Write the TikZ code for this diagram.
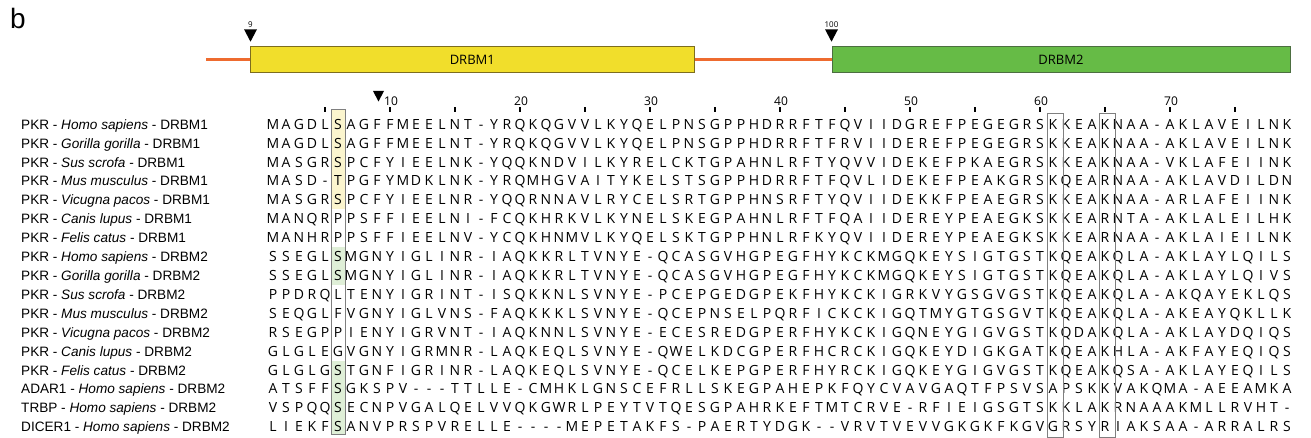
\documentclass[tikz,border=0pt]{standalone}
\usepackage{fontspec}
\setmainfont{Liberation Sans}
\newfontfamily\seqfont{Open Sans}
\definecolor{orangeline}{HTML}{EE6B2F}
\definecolor{dyellow}{HTML}{F1DE2B}
\definecolor{dyellowb}{HTML}{7D6D1E}
\definecolor{dgreen}{HTML}{66BB46}
\definecolor{dgreenb}{HTML}{4C6E40}
\definecolor{hlyellow}{HTML}{FBF5CE}
\definecolor{hlgreen}{HTML}{DFEFD7}
\definecolor{boxgray}{HTML}{7F7F7F}
\newcount\seqcol
\newcount\seqrowno
\def\seqloop#1{\ifx#1\relax\else
  \global\advance\seqcol by 1
  \node[seqletter] (r\the\seqrowno c\the\seqcol) at ({273+13*(\the\seqcol-1)},{\seqy+5}) {#1};
  \expandafter\seqloop\fi}
\newcommand\seqrow[3]{%
  \pgfmathsetmacro\seqy{124.3+18.9*(#1-1)}%
  \global\seqrowno=#1 \global\seqcol=0
  \node[namelabel] (n#1) at (21,{\seqy+5}) {#2};
  \seqloop#3\relax}
\begin{document}
\begin{tikzpicture}[x=1pt,y=-1pt,
  seqletter/.style={font=\seqfont\fontsize{14}{15}\selectfont, inner sep=0pt, anchor=base},
  namelabel/.style={font=\fontsize{13.6}{15}\selectfont, inner sep=0pt, anchor=base west},
  ticklabel/.style={font=\seqfont\fontsize{12}{13}\selectfont, inner sep=0pt, anchor=base},
  poslabel/.style={font=\seqfont\fontsize{8}{9}\selectfont, inner sep=0pt, anchor=base},
  domainbox/.style={draw, line width=0.9pt, inner sep=0pt, minimum height=26.8pt, font=\seqfont\fontsize{13}{14}\selectfont},
  marker/.style={fill=black},
  colbox/.style={draw=boxgray, line width=0.9pt},
  linker/.style={draw=orangeline, line width=3pt},
  tickmark/.style={line width=1.5pt}]
\useasboundingbox (0,0) rectangle (1311,438);
% panel letter
\node[font=\fontsize{28}{30}\selectfont, inner sep=0pt, anchor=base west] (panel) at (10,29) {b};
% domain architecture
\node[domainbox, draw=dyellowb, fill=dyellow, minimum width=444.6pt] (d1) at (472.3,59.4) {DRBM1};
\node[domainbox, draw=dgreenb, fill=dgreen, minimum width=458pt] (d2) at (1061,59.4) {DRBM2};
\coordinate (lstart) at (206,59.4);
\draw[linker] (lstart) -- (d1.west);
\draw[linker] (d1.east) -- (d2.west);
\fill[marker] (244,29.3) -- (257,29.3) -- (250.5,41.7) -- cycle;
\node[poslabel] (p9) at (250.5,27.9) {9};
\fill[marker] (825,29.3) -- (838,29.3) -- (831.5,41.7) -- cycle;
\node[poslabel] (p100) at (831.5,27.9) {100};
% alignment ruler
\fill[marker] (373,91) -- (384,91) -- (378.5,101.5) -- cycle;
\foreach \c in {5,10,...,75} {
  \draw[tickmark] ({273+13*(\c-1)},107.5) -- ({273+13*(\c-1)},112.5);
}
\foreach \c in {10,20,...,70} {
  \node[ticklabel] (t\c) at ({273+13*(\c-1)+1},105.3) {\c};
}
% highlights
\fill[hlyellow] (331,109) rectangle (345.5,209.35);
\fill[hlgreen] (331,247.15) rectangle (345.5,284.95);
\fill[hlgreen] (331,360.55) rectangle (345.5,434);
% rows
\seqrow{1}{PKR - \textit{Homo sapiens} - DRBM1}{MAGDLSAGFFMEELNT-YRQKQGVVLKYQELPNSGPPHDRRFTFQVIIDGREFPEGEGRSKKEAKNAA-AKLAVEILNK}
\seqrow{2}{PKR - \textit{Gorilla gorilla} - DRBM1}{MAGDLSAGFFMEELNT-YRQKQGVVLKYQELPNSGPPHDRRFTFRVIIDEREFPEGEGRSKKEAKNAA-AKLAVEILNK}
\seqrow{3}{PKR - \textit{Sus scrofa} - DRBM1}{MASGRSPCFYIEELNK-YQQKNDVILKYRELCKTGPAHNLRFTYQVVIDEKEFPKAEGRSKKEAKNAA-VKLAFEIINK}
\seqrow{4}{PKR - \textit{Mus musculus} - DRBM1}{MASD-TPGFYMDKLNK-YRQMHGVAITYKELSTSGPPHDRRFTFQVLIDEKEFPEAKGRSKQEARNAA-AKLAVDILDN}
\seqrow{5}{PKR - \textit{Vicugna pacos} - DRBM1}{MASGRSPCFYIEELNR-YQQRNNAVLRYCELSRTGPPHNSRFTYQVIIDEKKFPEAEGRSKKEAKNAA-ARLAFEIINK}
\seqrow{6}{PKR - \textit{Canis lupus} - DRBM1}{MANQRPPSFFIEELNI-FCQKHRKVLKYNELSKEGPAHNLRFTFQAIIDEREYPEAEGKSKKEARNTA-AKLALEILHK}
\seqrow{7}{PKR - \textit{Felis catus} - DRBM1}{MANHRPPSFFIEELNV-YCQKHNMVLKYQELSKTGPPHNLRFKYQVIIDEREYPEAEGKSKKEARNAA-AKLAIEILNK}
\seqrow{8}{PKR - \textit{Homo sapiens} - DRBM2}{SSEGLSMGNYIGLINR-IAQKKRLTVNYE-QCASGVHGPEGFHYKCKMGQKEYSIGTGSTKQEAKQLA-AKLAYLQILS}
\seqrow{9}{PKR - \textit{Gorilla gorilla} - DRBM2}{SSEGLSMGNYIGLINR-IAQKKRLTVNYE-QCASGVHGPEGFHYKCKMGQKEYSIGTGSTKQEAKQLA-AKLAYLQIVS}
\seqrow{10}{PKR - \textit{Sus scrofa} - DRBM2}{PPDRQLTENYIGRINT-ISQKKNLSVNYE-PCEPGEDGPEKFHYKCKIGRKVYGSGVGSTKQEAKQLA-AKQAYEKLQS}
\seqrow{11}{PKR - \textit{Mus musculus} - DRBM2}{SEQGLFVGNYIGLVNS-FAQKKKLSVNYE-QCEPNSELPQRFICKCKIGQTMYGTGSGVTKQEAKQLA-AKEAYQKLLK}
\seqrow{12}{PKR - \textit{Vicugna pacos} - DRBM2}{RSEGPPIENYIGRVNT-IAQKNNLSVNYE-ECESREDGPERFHYKCKIGQNEYGIGVGSTKQDAKQLA-AKLAYDQIQS}
\seqrow{13}{PKR - \textit{Canis lupus} - DRBM2}{GLGLEGVGNYIGRMNR-LAQKEQLSVNYE-QWELKDCGPERFHCRCKIGQKEYDIGKGATKQEAKHLA-AKFAYEQIQS}
\seqrow{14}{PKR - \textit{Felis catus} - DRBM2}{GLGLGSTGNFIGRINR-LAQKEQLSVNYE-QCELKEPGPERFHYRCKIGQKEYGIGVGSTKQEAKQSA-AKLAYEQILS}
\seqrow{15}{ADAR1 - \textit{Homo sapiens} - DRBM2}{ATSFFSGKSPV---TTLLE-CMHKLGNSCEFRLLSKEGPAHEPKFQYCVAVGAQTFPSVSAPSKKVAKQMA-AEEAMKA}
\seqrow{16}{TRBP - \textit{Homo sapiens} - DRBM2}{VSPQQSECNPVGALQELVVQKGWRLPEYTVTQESGPAHRKEFTMTCRVE-RFIEIGSGTSKKLAKRNAAAKMLLRVHT-}
\seqrow{17}{DICER1 - \textit{Homo sapiens} - DRBM2}{LIEKFSANVPRSPVRELLE----MEPETAKFS-PAERTYDGK--VRVTVEVVGKGKFKGVGRSYRIAKSAA-ARRALRS}
% column boxes
\draw[colbox] (331,109) rectangle (345.5,434);
\draw[colbox] (1047.5,113) rectangle (1063.5,437);
\draw[colbox] (1099.5,113) rectangle (1115,437);
\end{tikzpicture}
\end{document}
